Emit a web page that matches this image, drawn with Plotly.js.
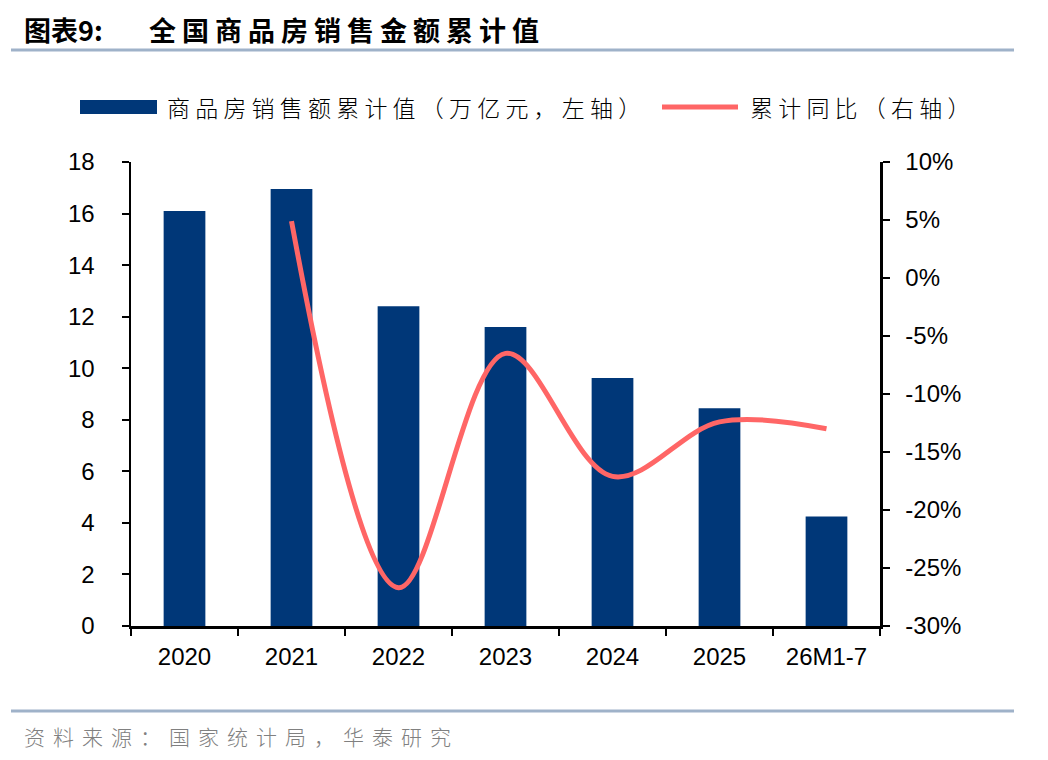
<!DOCTYPE html>
<html>
<head>
<meta charset="utf-8">
<script src="https://cdn.plot.ly/plotly-3.0.1.min.js"></script>
<style>
  html, body { margin: 0; padding: 0; background: #fff; }
  #chart { width: 1048px; height: 760px; }
  /* wide character spacing of the original typesetting */
  g.annotation[data-index="1"] text { letter-spacing: 6px; }
  g.annotation[data-index="2"] text,
  g.annotation[data-index="3"] text { letter-spacing: 5.2px; }
  g.annotation[data-index="4"] text { letter-spacing: 8px; }
</style>
</head>
<body>
<div id="chart"></div>
<script>
// data
var categories = ['2020', '2021', '2022', '2023', '2024', '2025', '26M1-7'];
var salesValue = [16.1, 16.95, 12.4, 11.6, 9.62, 8.45, 4.25];   // 万亿元
var yoyCategories = ['2021', '2022', '2023', '2024', '2025', '26M1-7'];
var yoyGrowth = [4.9, -26.7, -6.5, -17.1, -12.4, -13.0];       // %
var yoyTicks = [-30, -25, -20, -15, -10, -5, 0, 5, 10];

var barName = '商品房销售额累计值（万亿元，左轴）';
var lineName = '累计同比（右轴）';

var navy = '#003778';
var salmon = '#ff6666';
var cjk = '"Noto Sans CJK SC", "Noto Sans", sans-serif';
var num = '"Liberation Sans", Arial, sans-serif';

// plot area in pixels
var L = 131, R = 880, T = 162, B = 626;
function px(x) { return (x - L) / (R - L); }
function py(y) { return (B - y) / (B - T); }

var bars = {
  x: categories,
  y: salesValue,
  type: 'bar',
  name: barName,
  marker: {color: navy},
  hoverinfo: 'x+y'
};

var line = {
  x: yoyCategories,
  y: yoyGrowth,
  type: 'scatter',
  mode: 'lines',
  name: lineName,
  yaxis: 'y2',
  line: {color: salmon, width: 5, shape: 'spline', smoothing: 1},
  hoverinfo: 'x+y'
};

var axisStyle = {
  showline: true,
  linecolor: '#000',
  linewidth: 2.5,
  ticks: 'outside',
  ticklen: 7,
  tickwidth: 2,
  tickcolor: '#000',
  showgrid: false,
  zeroline: false,
  tickfont: {family: num, size: 24, color: '#000'}
};

var layout = {
  width: 1048,
  height: 760,
  margin: {l: L, r: 1048 - R, t: T, b: 760 - B},
  paper_bgcolor: '#fff',
  plot_bgcolor: '#fff',
  showlegend: false,
  bargap: 0.61,
  xaxis: Object.assign({}, axisStyle, {
    type: 'category',
    tickson: 'boundaries',
    ticklabelstandoff: 8
  }),
  yaxis: Object.assign({}, axisStyle, {
    range: [0, 18],
    dtick: 2,
    ticklabelstandoff: 22
  }),
  yaxis2: Object.assign({}, axisStyle, {
    range: [-30, 10],
    tickvals: yoyTicks,
    ticktext: yoyTicks.map(function (v) { return v + '%'; }),
    overlaying: 'y',
    side: 'right',
    ticklabelstandoff: 11
  }),
  shapes: [
    // rules under the title and above the source
    {type: 'line', xref: 'paper', yref: 'paper', x0: px(11), x1: px(1014), y0: py(50), y1: py(50),
     line: {color: '#9fb2c9', width: 3}},
    {type: 'line', xref: 'paper', yref: 'paper', x0: px(11), x1: px(1014), y0: py(711), y1: py(711),
     line: {color: '#9fb2c9', width: 3}},
    // legend swatches
    {type: 'rect', xref: 'paper', yref: 'paper', x0: px(80), x1: px(157), y0: py(114), y1: py(100),
     fillcolor: navy, line: {width: 0}},
    {type: 'line', xref: 'paper', yref: 'paper', x0: px(662), x1: px(738), y0: py(107), y1: py(107),
     line: {color: salmon, width: 5}}
  ],
  annotations: [
    {text: '<b>图表9:</b>', xref: 'paper', yref: 'paper', align: 'left',
     x: px(22), y: py(30), xanchor: 'left', yanchor: 'middle', showarrow: false,
     font: {family: cjk, size: 27, color: '#000'}},
    {text: '<b>全国商品房销售金额累计值</b>', xref: 'paper', yref: 'paper', align: 'left',
     x: px(147), y: py(30), xanchor: 'left', yanchor: 'middle', showarrow: false,
     font: {family: cjk, size: 27, color: '#000'}},
    {text: barName, xref: 'paper', yref: 'paper', align: 'left',
     x: px(165), y: py(107), xanchor: 'left', yanchor: 'middle', showarrow: false,
     font: {family: cjk, size: 23, color: '#000', weight: 300}},
    {text: lineName, xref: 'paper', yref: 'paper', align: 'left',
     x: px(748), y: py(107), xanchor: 'left', yanchor: 'middle', showarrow: false,
     font: {family: cjk, size: 23, color: '#000', weight: 300}},
    {text: '资料来源：国家统计局，华泰研究', xref: 'paper', yref: 'paper', align: 'left',
     x: px(22), y: py(736), xanchor: 'left', yanchor: 'middle', showarrow: false,
     font: {family: cjk, size: 21, color: '#808080', weight: 300}}
  ]
};

Plotly.newPlot('chart', [bars, line], layout, {displayModeBar: false, staticPlot: true});
</script>
</body>
</html>
